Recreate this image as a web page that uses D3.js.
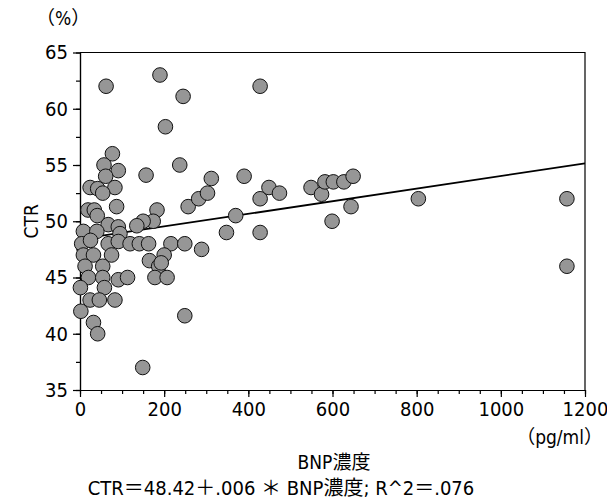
<!DOCTYPE html>
<html lang="ja">
<head>
<meta charset="UTF-8">
<title>CTR vs BNP濃度</title>
<script src="https://d3js.org/d3.v7.min.js"></script>
<style>
    body {
        margin: 0;
        padding: 0;
        background: #fff;
    }
    svg text {
        font-family: "Liberation Sans Narrow", "DejaVu Sans Condensed", "Noto Sans CJK JP", sans-serif;
        fill: #000;
    }
    .axis path, .axis line {
        stroke: #000;
        stroke-width: 1.2;
    }
    .axis text {
        font-size: 20px;
    }
</style>
</head>
<body>
<svg width="607" height="500"></svg>
<script>
// BNP濃度 (pg/ml) and CTR (%)
const bnp = [62, 190, 245, 203, 237, 157, 77, 57, 91, 61,
             24, 42, 83, 54, 87, 19, 34, 41, 183, 257,
             282, 303, 312, 390, 370, 428, 428, 449, 474, 348,
             428, 289, 549, 574, 582, 602, 627, 649, 644, 599,
             804, 1157, 1157, 174, 150, 135, 67, 91, 95, 8,
             40, 4, 25, 67, 91, 119, 141, 163, 216, 249,
             200, 8, 32, 75, 165, 187, 193, 12, 54, 20,
             54, 91, 113, 178, 207, 1, 58, 24, 46, 83,
             2, 32, 42, 249, 149];
const ctr = [62.0, 63.0, 61.1, 58.4, 55.0, 54.1, 56.0, 55.0, 54.5, 54.0,
             53.0, 52.9, 53.0, 52.5, 51.3, 51.0, 51.0, 50.5, 51.0, 51.3,
             52.0, 52.5, 53.8, 54.0, 50.5, 62.0, 52.0, 53.0, 52.5, 49.0,
             49.0, 47.5, 53.0, 52.4, 53.5, 53.5, 53.5, 54.0, 51.3, 50.0,
             52.0, 52.0, 46.0, 50.0, 50.0, 49.6, 49.7, 49.5, 48.9, 49.1,
             49.1, 48.0, 48.3, 48.0, 48.2, 48.0, 48.0, 48.0, 48.0, 48.0,
             47.0, 47.0, 47.0, 47.0, 46.5, 46.0, 46.3, 46.0, 46.0, 45.0,
             45.0, 44.8, 45.0, 45.0, 45.0, 44.1, 44.1, 43.0, 43.0, 43.0,
             42.0, 41.0, 40.0, 41.6, 37.0];

// regression line as drawn
const intercept = 48.42;
const slope = 0.0056;

const xTicks = [0, 200, 400, 600, 800, 1000, 1200];
const yTicks = [35, 40, 45, 50, 55, 60, 65];
const xMinor = d3.range(0, 1201, 50);
const yMinor = d3.range(35, 65.1, 2.5);

const svg = d3.select("svg");
const plot = { left: 80, right: 585, top: 52.5, bottom: 390 };

const x = d3.scaleLinear().domain([0, 1200]).range([plot.left, plot.right]);
const y = d3.scaleLinear().domain([35, 65]).range([plot.bottom, plot.top]);

// minor ticks
svg.append("g")
    .attr("class", "axis")
    .attr("transform", `translate(0,${plot.bottom})`)
    .call(d3.axisBottom(x).tickValues(xMinor).tickSize(4).tickSizeOuter(0).tickFormat(""));
svg.append("g")
    .attr("class", "axis")
    .attr("transform", `translate(${plot.left},0)`)
    .call(d3.axisLeft(y).tickValues(yMinor).tickSize(4).tickSizeOuter(0).tickFormat(""));

// major ticks + labels
svg.append("g")
    .attr("class", "axis")
    .attr("transform", `translate(0,${plot.bottom})`)
    .call(d3.axisBottom(x).tickValues(xTicks).tickSize(7).tickSizeOuter(0).tickPadding(5).tickFormat(d3.format("d")));
svg.append("g")
    .attr("class", "axis")
    .attr("transform", `translate(${plot.left},0)`)
    .call(d3.axisLeft(y).tickValues(yTicks).tickSize(7).tickSizeOuter(0).tickPadding(5));

// frame top and right
svg.append("path")
    .attr("d", `M${plot.left},${plot.top}H${plot.right}V${plot.bottom}`)
    .attr("fill", "none")
    .attr("stroke", "#000")
    .attr("stroke-width", 1.2);

// regression line
svg.append("line")
    .attr("x1", x(d3.min(bnp)))
    .attr("y1", y(intercept + slope * d3.min(bnp)))
    .attr("x2", x(1200))
    .attr("y2", y(intercept + slope * 1200))
    .attr("stroke", "#000")
    .attr("stroke-width", 1.8);

// points
svg.append("g")
    .selectAll("circle")
    .data(bnp.map((b, i) => ({ b: b, c: ctr[i] })))
    .join("circle")
    .attr("cx", d => x(d.b))
    .attr("cy", d => y(d.c))
    .attr("r", 7.3)
    .attr("fill", "#969696")
    .attr("stroke", "#111")
    .attr("stroke-width", 1);

// labels
svg.append("text")
    .attr("x", 36)
    .attr("y", 25)
    .attr("font-size", 19)
    .text("（%）");

svg.append("text")
    .attr("transform", `translate(38,${(plot.top + plot.bottom) / 2}) rotate(-90)`)
    .attr("text-anchor", "middle")
    .attr("font-size", 19)
    .text("CTR");

svg.append("text")
    .attr("x", 603)
    .attr("y", 444)
    .attr("text-anchor", "end")
    .attr("font-size", 19)
    .text("（pg/ml）");

svg.append("text")
    .attr("x", 334)
    .attr("y", 469)
    .attr("text-anchor", "middle")
    .attr("font-size", 19)
    .text("BNP濃度");

svg.append("text")
    .attr("x", 281)
    .attr("y", 495)
    .attr("text-anchor", "middle")
    .attr("font-size", 20)
    .text("CTR＝48.42＋.006 ＊ BNP濃度; R^2＝.076");
</script>
</body>
</html>
